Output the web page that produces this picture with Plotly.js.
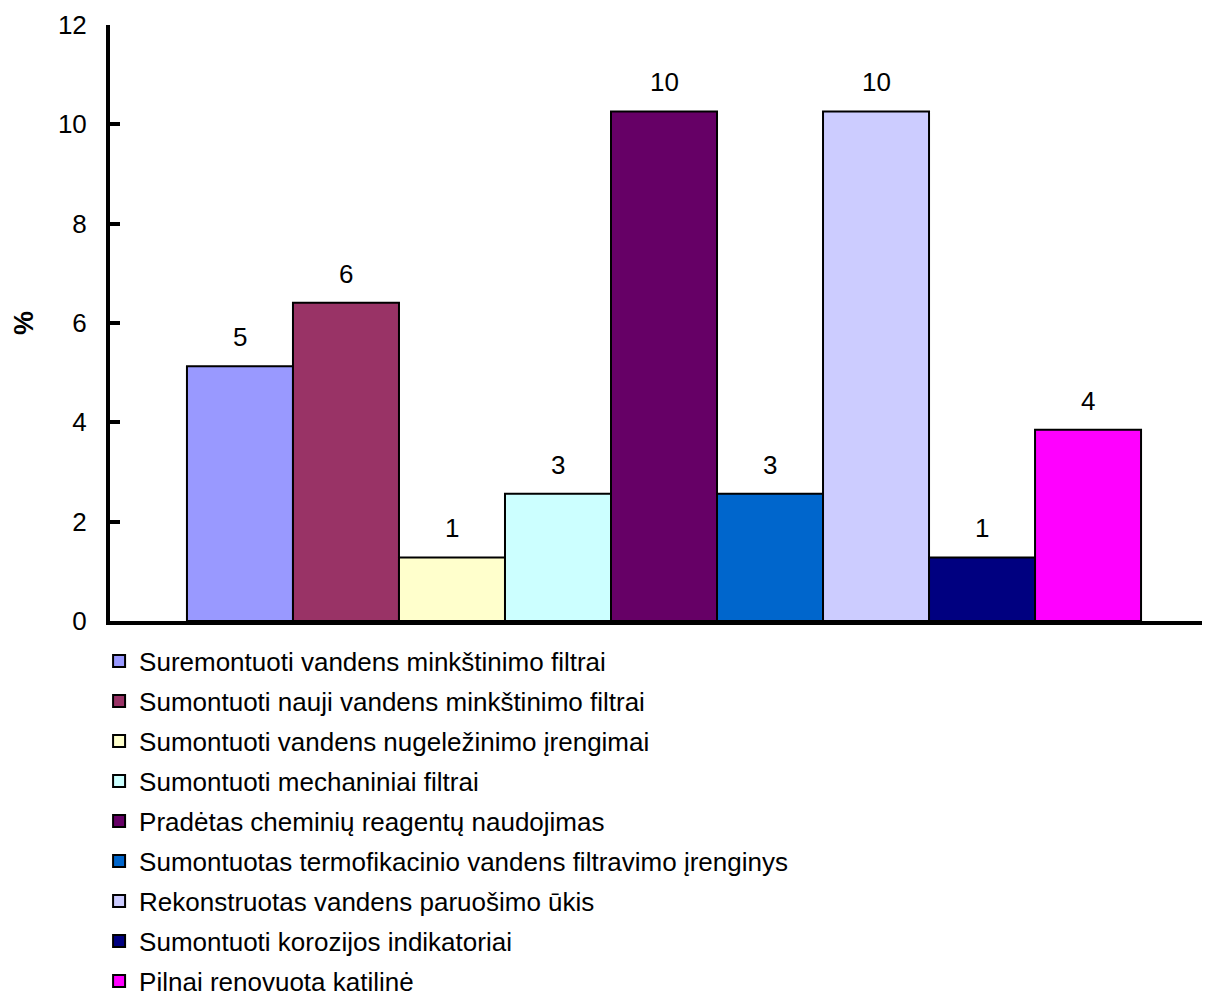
<!DOCTYPE html>
<html>
<head>
<meta charset="utf-8">
<script src="https://cdn.plot.ly/plotly-3.0.1.min.js"></script>
<style>
  html, body { margin: 0; padding: 0; background: #fff; }
  #chart { width: 1210px; height: 996px; }
</style>
</head>
<body>
<div id="chart"></div>
<script>
// Measures introduced in boiler houses (share of respondents, %)
const categories = [
  "Suremontuoti vandens minkštinimo filtrai",
  "Sumontuoti nauji vandens minkštinimo filtrai",
  "Sumontuoti vandens nugeležinimo įrengimai",
  "Sumontuoti mechaniniai filtrai",
  "Pradėtas cheminių reagentų naudojimas",
  "Sumontuotas termofikacinio vandens filtravimo įrenginys",
  "Rekonstruotas vandens paruošimo ūkis",
  "Sumontuoti korozijos indikatoriai",
  "Pilnai renovuota katilinė"
];
const values = [5.13, 6.41, 1.28, 2.56, 10.26, 2.56, 10.26, 1.28, 3.85];
const colors = ["#9999FF", "#993366", "#FFFFCC", "#CCFFFF", "#660066",
                "#0066CC", "#CCCCFF", "#000080", "#FF00FF"];
const yTicks = [0, 2, 4, 6, 8, 10, 12];

const FONT = "Liberation Sans, Arial, sans-serif";
const FS = 26;

const traces = categories.map((name, i) => ({
  type: "bar",
  name: name,
  legendgroup: "g" + i,
  x: [i],
  y: [values[i]],
  width: [1],
  marker: { color: colors[i], line: { color: "#000", width: 2 } },
  hoverinfo: "name+y"
}));

// value labels above each bar, rounded to whole percent
const annotations = values.map((v, i) => ({
  x: i, y: v, xref: "x", yref: "y",
  text: String(Math.round(v)),
  showarrow: false,
  yanchor: "bottom",
  yshift: 12,
  font: { family: FONT, size: FS, color: "#000" }
}));

const layout = {
  width: 1210,
  height: 996,
  margin: { l: 110, r: 8, t: 25, b: 375, autoexpand: false },
  paper_bgcolor: "#fff",
  plot_bgcolor: "#fff",
  barmode: "overlay",
  showlegend: true,
  font: { family: FONT, size: FS, color: "#000" },
  xaxis: {
    range: [-1.226, 9.075],
    showticklabels: false,
    ticks: "",
    showgrid: false,
    zeroline: false,
    showline: true,
    linecolor: "#000",
    linewidth: 4,
    fixedrange: true
  },
  yaxis: {
    range: [0, 12],
    tickvals: yTicks,
    ticktext: yTicks.map(String),
    ticks: "inside",
    ticklen: 10,
    tickwidth: 4,
    tickcolor: "#000",
    ticklabelstandoff: 14,
    showgrid: false,
    zeroline: false,
    showline: true,
    linecolor: "#000",
    linewidth: 4,
    tickfont: { family: FONT, size: FS, color: "#000" },
    title: {
      text: "%",
      standoff: 17,
      font: { family: FONT, size: 27, color: "#000", weight: "bold" }
    },
    fixedrange: true
  },
  legend: {
    orientation: "v",
    x: -0.01,
    xanchor: "left",
    y: -0.028,
    yanchor: "top",
    traceorder: "grouped",
    tracegroupgap: 3.2,
    bgcolor: "rgba(0,0,0,0)",
    font: { family: FONT, size: FS, color: "#000" },
    itemclick: false,
    itemdoubleclick: false
  },
  annotations: annotations
};

Plotly.newPlot("chart", traces, layout, { displayModeBar: false, staticPlot: true });
</script>
</body>
</html>
